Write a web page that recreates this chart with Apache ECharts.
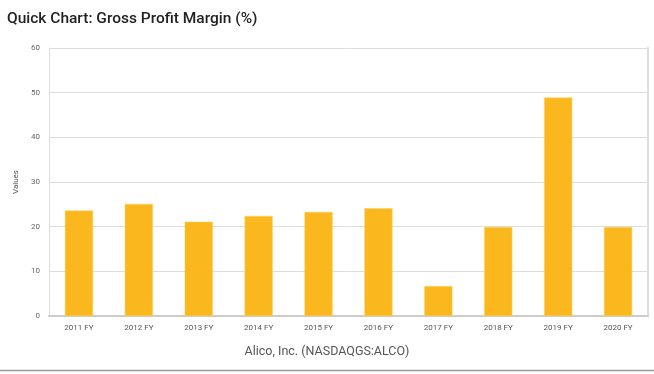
<!DOCTYPE html>
<html>
<head>
<meta charset="utf-8">
<script src="https://cdn.jsdelivr.net/npm/echarts@6/dist/echarts.min.js"></script>
<style>
html,body{margin:0;padding:0;background:#fff;}
#chart{width:654px;height:374px;}
</style>
</head>
<body>
<div id="chart"></div>
<script>
const categories = ['2011 FY','2012 FY','2013 FY','2014 FY','2015 FY','2016 FY','2017 FY','2018 FY','2019 FY','2020 FY'];
const grossMargin = [23.6, 25.1, 21.1, 22.4, 23.3, 24.1, 6.7, 19.9, 48.9, 19.9];
const yTicks = [0, 10, 20, 30, 40, 50, 60];
const titleText = 'Quick Chart: Gross Profit Margin (%)';
const subtitleText = 'Alico, Inc. (NASDAQGS:ALCO)';
const yAxisName = 'Values';

const chart = echarts.init(document.getElementById('chart'), null, {renderer:'canvas'});
chart.setOption({
  animation: false,
  backgroundColor: '#fff',
  title: [{
    text: titleText,
    left: 2, top: 6,
    textStyle: {fontFamily: 'Roboto', fontSize: 15.5, fontWeight: 500, color: '#222'}
  },{
    text: subtitleText,
    left: 'center', top: 340,
    textStyle: {fontFamily: 'Roboto', fontSize: 12.5, fontWeight: 400, color: '#555'}
  }],
  grid: {left: 49, right: 6, top: 48, bottom: 58},
  xAxis: {
    type: 'category',
    data: categories,
    axisLine: {lineStyle: {color: '#cccccc', width: 2}},
    axisTick: {show: false},
    axisLabel: {fontFamily: 'Roboto', fontSize: 8, color: '#555', margin: 8}
  },
  yAxis: [{
    type: 'value',
    min: yTicks[0], max: yTicks[yTicks.length-1], interval: 10,
    name: yAxisName,
    nameLocation: 'middle',
    nameGap: 27,
    nameTextStyle: {fontFamily: 'Roboto', fontSize: 8, color: '#555'},
    axisLine: {show: true, lineStyle: {color: '#dddddd', width: 1}},
    axisTick: {show: false},
    axisLabel: {fontFamily: 'Roboto', fontSize: 8, color: '#666', margin: 9},
    splitLine: {lineStyle: {color: '#dddddd', width: 1}}
  },{
    type: 'value',
    position: 'right',
    min: yTicks[0], max: yTicks[yTicks.length-1], interval: 10,
    axisLine: {show: true, lineStyle: {color: '#dddddd', width: 2}},
    axisTick: {show: false},
    axisLabel: {show: false},
    splitLine: {show: false}
  }],
  series: [{
    type: 'bar',
    data: grossMargin,
    barWidth: '47%',
    itemStyle: {color: '#FAB81E', borderColor: '#FDD25C', borderWidth: 0.5}
  }],
  graphic: [{
    type: 'line',
    shape: {x1: 0, y1: 370.5, x2: 654, y2: 370.5},
    style: {stroke: '#999', lineWidth: 1.5}
  }]
});
</script>
</body>
</html>
